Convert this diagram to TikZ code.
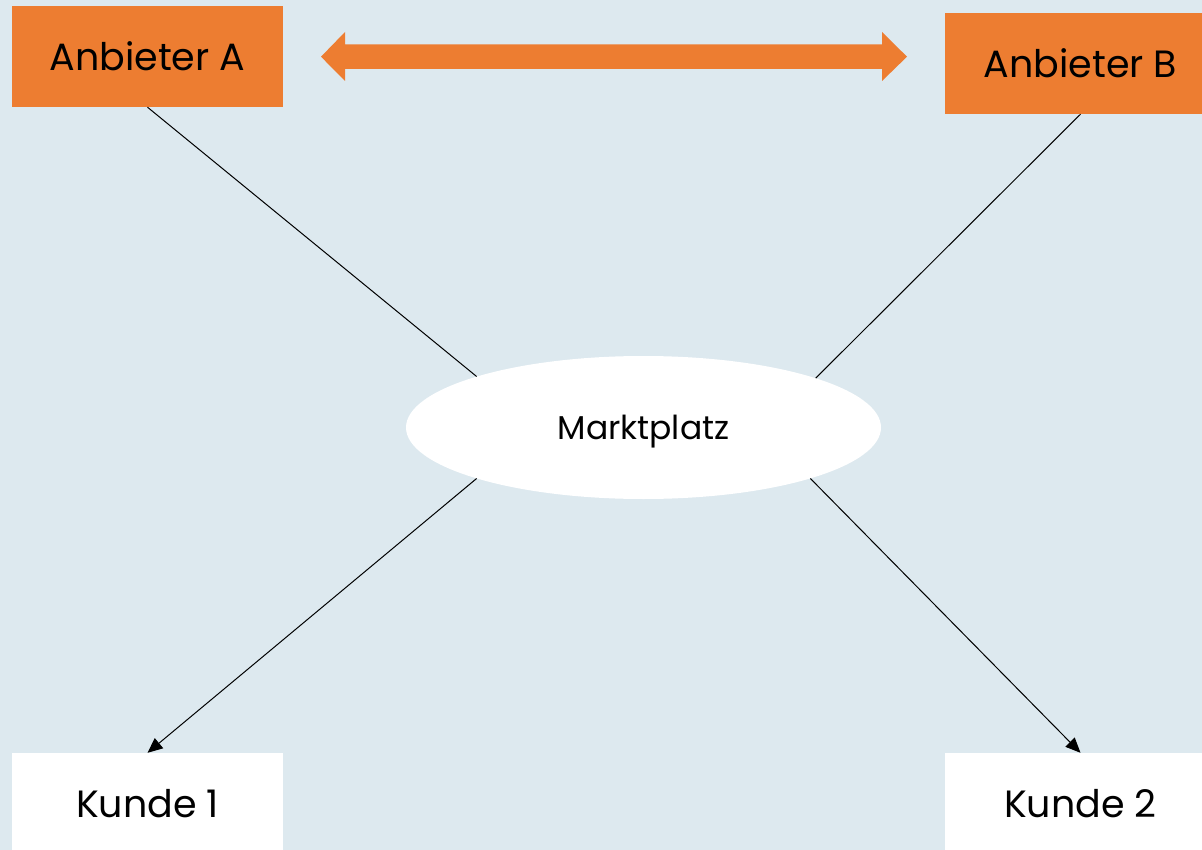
\documentclass[tikz,border=0pt]{standalone}
\usepackage{fontspec}
\setmainfont{Poppins}
\usetikzlibrary{shapes.geometric,arrows.meta}
\definecolor{bgblue}{RGB}{221,233,239}
\definecolor{orng}{RGB}{237,125,49}
\tikzset{
  actorbox/.style={rectangle,fill=orng,inner sep=0pt,minimum width=271pt,minimum height=101pt,font=\fontsize{38}{44}\selectfont},
  custbox/.style={rectangle,fill=white,inner sep=0pt,minimum width=271pt,minimum height=101pt,font=\fontsize{38}{44}\selectfont},
  market/.style={ellipse,fill=white,inner sep=0pt,minimum width=475pt,minimum height=143pt},
  link/.style={draw=black,line width=1pt},
  flow/.style={link,-{Triangle[length=15pt,width=13pt]}}
}
\begin{document}
\begin{tikzpicture}[x=1pt,y=-1pt]
\fill[bgblue] (0,0) rectangle (1202,850);
\useasboundingbox (0,0) rectangle (1202,850);
\node[actorbox] (a) at (147.5,56.5) {Anbieter A};
\node[actorbox] (b) at (1080.5,63.5) {Anbieter B};
\node[custbox] (k1) at (147.5,803.5) {Kunde 1};
\node[custbox] (k2) at (1080.5,803.5) {Kunde 2};
\node[market] (m) at (643.5,427.5) {};
\node[font=\fontsize{33}{38}\selectfont,inner sep=0pt] (mt) at (643.5,432) {Marktplatz};
\draw[link] (a.south) -- (m.163.3);
\draw[link] (b.south) -- (m.16.5);
\draw[flow] (m.197.3) -- (k1.north);
\draw[flow] (m.-17.1) -- (k2.north);
\fill[orng] (321,56.7) -- (345,32) -- (345,44.5) -- (882,44.5) -- (882,32) -- (907,56.7)
  -- (882,81) -- (882,69) -- (345,69) -- (345,81) -- cycle;
\end{tikzpicture}
\end{document}
